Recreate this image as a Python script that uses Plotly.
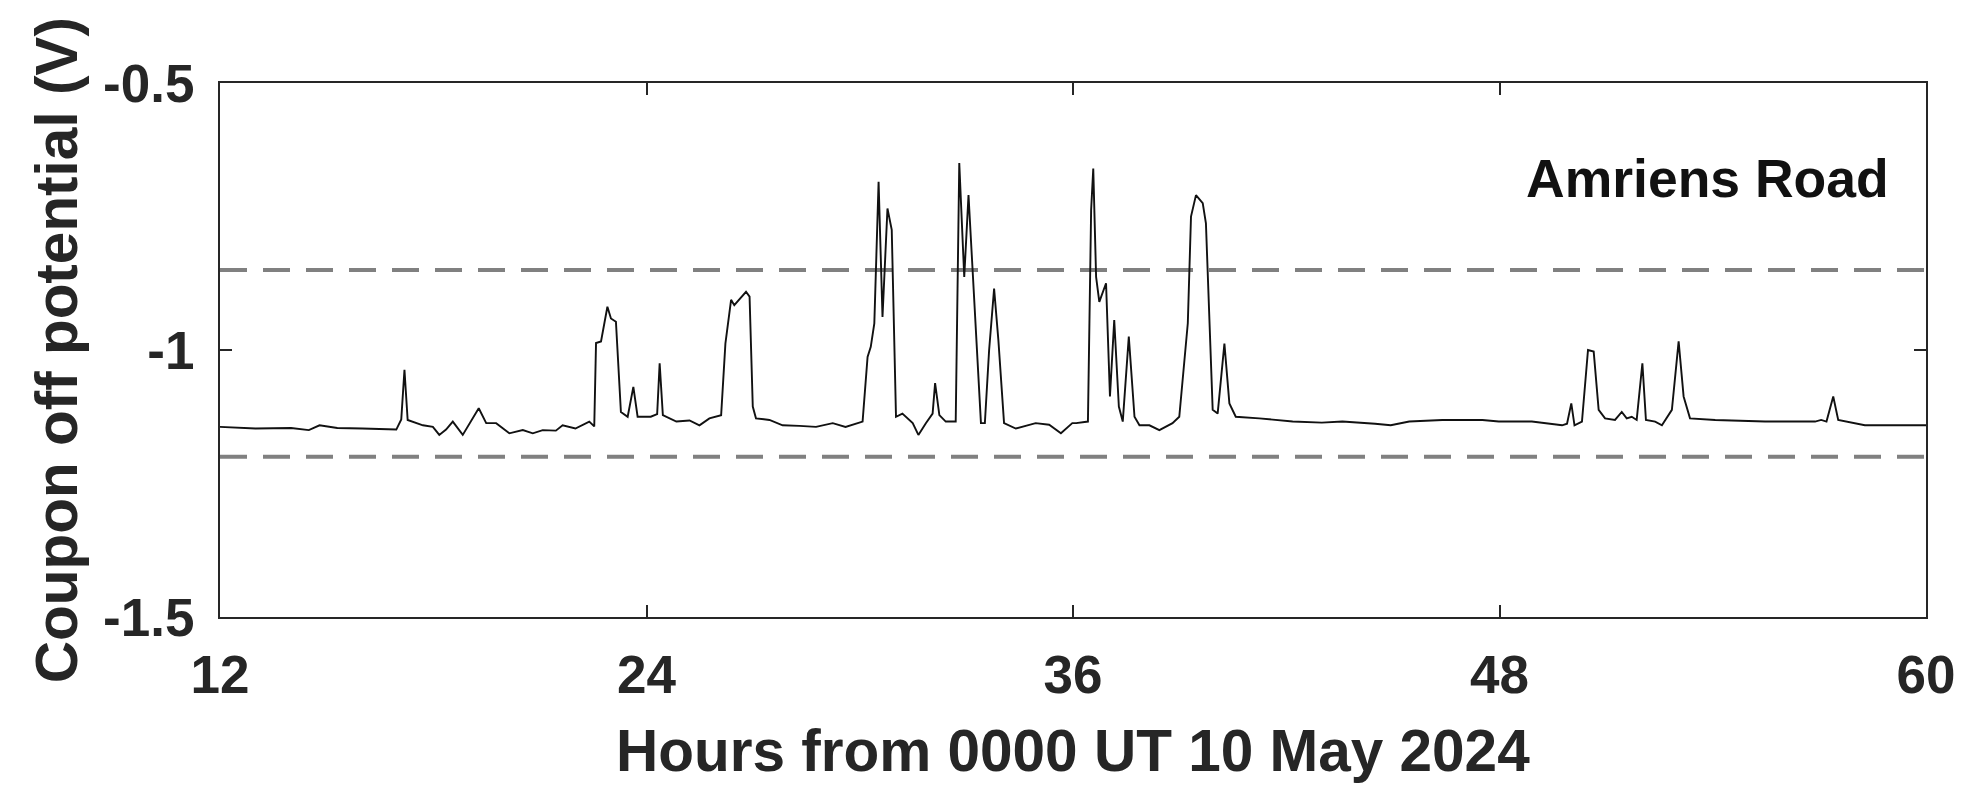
import plotly.graph_objects as go

# Hours from 0000 UT 10 May 2024
hours = [
    12.0, 13.0, 14.0, 14.5, 14.8, 15.3, 16.0, 16.96, 17.1, 17.19, 17.28, 17.71, 17.99,
    18.17, 18.36, 18.55, 18.83, 19.06, 19.28, 19.49, 19.77, 20.14, 20.52, 20.8, 21.08,
    21.45, 21.64, 22.0, 22.39, 22.53, 22.58, 22.72, 22.9, 23.0, 23.14, 23.28, 23.47,
    23.63, 23.75, 24.12, 24.3, 24.37, 24.46, 24.84, 25.21, 25.49, 25.77, 26.1, 26.22,
    26.38, 26.47, 26.8, 26.9, 26.99, 27.08, 27.46, 27.83, 28.3, 28.77, 29.24, 29.6,
    30.08, 30.22, 30.31, 30.41, 30.53, 30.64, 30.78, 30.9, 31.02, 31.2, 31.49, 31.65,
    31.86, 32.05, 32.12, 32.24, 32.42, 32.7, 32.8, 32.94, 33.06, 33.22, 33.41, 33.52,
    33.64, 33.78, 33.9, 34.06, 34.39, 34.95, 35.33, 35.66, 35.98, 36.09, 36.42, 36.51,
    36.57, 36.65, 36.74, 36.93, 37.04, 37.16, 37.29, 37.4, 37.57, 37.73, 37.87, 38.15,
    38.43, 38.8, 38.99, 39.23, 39.32, 39.46, 39.65, 39.74, 39.83, 39.93, 40.07, 40.26,
    40.4, 40.58, 41.24, 42.18, 43.0, 43.58, 44.5, 44.94, 45.46, 46.39, 47.52, 47.98,
    48.91, 49.76, 49.9, 50.02, 50.11, 50.32, 50.49, 50.65, 50.79, 50.97, 51.25, 51.44,
    51.58, 51.72, 51.86, 52.02, 52.12, 52.38, 52.57, 52.85, 53.04, 53.18, 53.36, 54.07,
    55.47, 56.88, 57.05, 57.2, 57.39, 57.53, 58.28, 59.22, 60.0,
]
potential = [
    -1.144, -1.147, -1.146, -1.150, -1.141, -1.146, -1.147, -1.149, -1.130, -1.037, -1.131, -1.141, -1.144,
    -1.159, -1.149, -1.134, -1.159, -1.134, -1.109, -1.137, -1.137, -1.156, -1.150, -1.156, -1.150,
    -1.151, -1.141, -1.147, -1.134, -1.143, -0.987, -0.984, -0.919, -0.941, -0.947, -1.116, -1.125,
    -1.069, -1.125, -1.125, -1.120, -1.025, -1.122, -1.134, -1.132, -1.141, -1.128, -1.122, -0.988,
    -0.906, -0.916, -0.891, -0.900, -1.106, -1.128, -1.131, -1.141, -1.142, -1.144, -1.137, -1.144,
    -1.134, -1.013, -0.994, -0.950, -0.685, -0.938, -0.735, -0.775, -1.125, -1.119, -1.137, -1.159,
    -1.137, -1.119, -1.062, -1.122, -1.134, -1.134, -0.650, -0.863, -0.710, -0.913, -1.137, -1.137,
    -1.000, -0.885, -0.981, -1.137, -1.147, -1.137, -1.140, -1.156, -1.137, -1.137, -1.134, -0.738,
    -0.660, -0.863, -0.910, -0.875, -1.087, -0.944, -1.106, -1.134, -0.975, -1.125, -1.141, -1.141,
    -1.150, -1.137, -1.125, -0.950, -0.750, -0.710, -0.725, -0.763, -0.938, -1.112, -1.119, -0.988,
    -1.100, -1.125, -1.128, -1.134, -1.136, -1.134, -1.138, -1.141, -1.134, -1.131, -1.131, -1.134,
    -1.134, -1.141, -1.138, -1.100, -1.141, -1.134, -1.000, -1.003, -1.112, -1.128, -1.131, -1.116,
    -1.128, -1.125, -1.131, -1.025, -1.131, -1.134, -1.141, -1.112, -0.984, -1.087, -1.128, -1.131,
    -1.134, -1.134, -1.131, -1.134, -1.087, -1.131, -1.141, -1.141, -1.141,
]

# Reference (protection criterion) levels, V
threshold_levels = [-0.85, -1.2]

x_ticks = [12, 24, 36, 48, 60]
y_ticks = [-1.5, -1.0, -0.5]
y_tick_labels = ["-1.5", "-1", "-0.5"]

site_label = "Amriens Road"
x_title = "Hours from 0000 UT 10 May 2024"
y_title = "Coupon off potential (V)"

FONT = "Liberation Sans, Arial, sans-serif"
TXT = "#262626"

fig = go.Figure()

for lvl in threshold_levels:
    fig.add_trace(go.Scatter(
        x=[x_ticks[0], x_ticks[-1]], y=[lvl, lvl], mode="lines",
        line=dict(color="#808080", width=4, dash="27px,16px"),
        hoverinfo="skip", showlegend=False,
    ))

fig.add_trace(go.Scatter(
    x=hours, y=potential, mode="lines",
    line=dict(color="#111111", width=1.9),
    showlegend=False,
))

axis_common = dict(
    showgrid=False, zeroline=False, showline=True, linecolor="#262626", linewidth=2,
    mirror="ticks", ticks="inside", ticklen=12, tickwidth=1.5, tickcolor="#262626",
    tickfont=dict(family=FONT, size=53, color=TXT, weight="bold"),
)

fig.update_xaxes(range=[12, 60], tickvals=x_ticks, ticktext=[str(v) for v in x_ticks],
                 ticklabelstandoff=10, **axis_common)
fig.update_yaxes(range=[-1.5, -0.5], tickvals=y_ticks, ticktext=y_tick_labels,
                 ticklabelstandoff=13, **axis_common)

fig.add_annotation(text=x_title, xref="paper", yref="paper", x=0.5, y=-0.25,
                   xanchor="center", yanchor="middle", showarrow=False,
                   font=dict(family=FONT, size=58.5, color=TXT, weight="bold"))
fig.add_annotation(text=y_title, xref="paper", yref="paper", x=-0.096, y=0.5,
                   xanchor="center", yanchor="middle", textangle=-90, showarrow=False,
                   font=dict(family=FONT, size=58.5, color=TXT, weight="bold"))
fig.add_annotation(text=site_label, xref="paper", yref="paper", x=0.9795, y=0.822,
                   xanchor="right", yanchor="middle", showarrow=False,
                   font=dict(family=FONT, size=53.5, color="#111111", weight="bold"))

fig.update_layout(
    width=1967, height=785,
    margin=dict(l=220, r=39, t=83, b=168),
    plot_bgcolor="white", paper_bgcolor="white",
    font=dict(family=FONT, color=TXT),
)

fig.write_html("out.html")
